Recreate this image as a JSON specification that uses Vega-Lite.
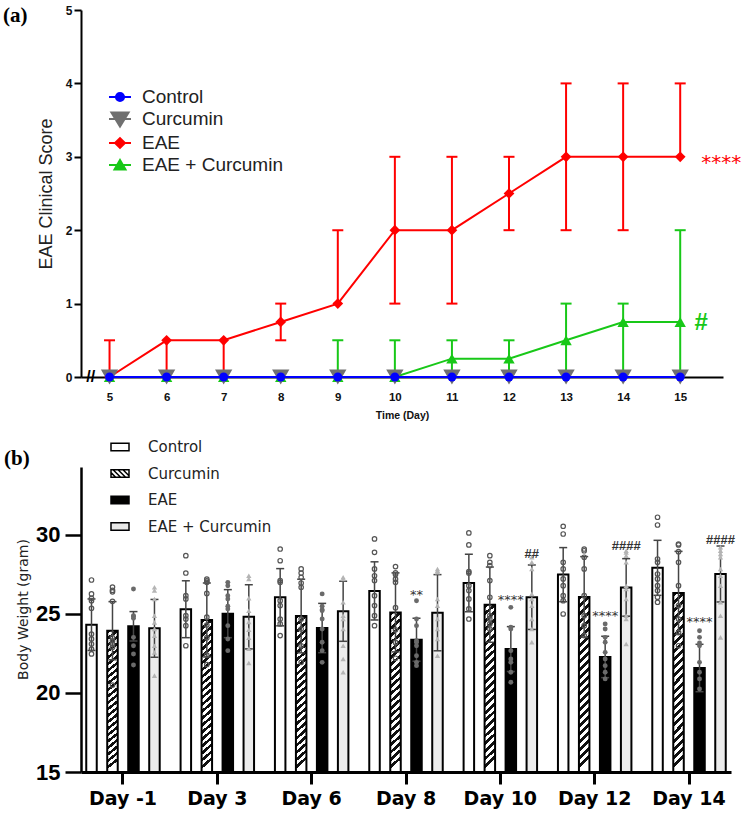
{
"$schema":"https://vega.github.io/schema/vega-lite/v6.json",
"background":"white",
"padding":{"left":3,"top":4,"right":5,"bottom":5},
"config":{"view":{"stroke":null},"font":"Liberation Sans","axis":{"grid":false}},
"bounds":"flush",
"spacing":90,
"resolve":{"scale":{"fill":"independent","shape":"independent","stroke":"independent","color":"independent"},"legend":{"fill":"independent","shape":"independent","stroke":"independent","color":"independent"}},
"datasets":{
"clin":[
{"day":5,"group":"Control","mean":0,"lo":0,"hi":0},{"day":6,"group":"Control","mean":0,"lo":0,"hi":0},{"day":7,"group":"Control","mean":0,"lo":0,"hi":0},{"day":8,"group":"Control","mean":0,"lo":0,"hi":0},{"day":9,"group":"Control","mean":0,"lo":0,"hi":0},{"day":10,"group":"Control","mean":0,"lo":0,"hi":0},{"day":11,"group":"Control","mean":0,"lo":0,"hi":0},{"day":12,"group":"Control","mean":0,"lo":0,"hi":0},{"day":13,"group":"Control","mean":0,"lo":0,"hi":0},{"day":14,"group":"Control","mean":0,"lo":0,"hi":0},{"day":15,"group":"Control","mean":0,"lo":0,"hi":0},
{"day":5,"group":"Curcumin","mean":0,"lo":0,"hi":0},{"day":6,"group":"Curcumin","mean":0,"lo":0,"hi":0},{"day":7,"group":"Curcumin","mean":0,"lo":0,"hi":0},{"day":8,"group":"Curcumin","mean":0,"lo":0,"hi":0},{"day":9,"group":"Curcumin","mean":0,"lo":0,"hi":0},{"day":10,"group":"Curcumin","mean":0,"lo":0,"hi":0},{"day":11,"group":"Curcumin","mean":0,"lo":0,"hi":0},{"day":12,"group":"Curcumin","mean":0,"lo":0,"hi":0},{"day":13,"group":"Curcumin","mean":0,"lo":0,"hi":0},{"day":14,"group":"Curcumin","mean":0,"lo":0,"hi":0},{"day":15,"group":"Curcumin","mean":0,"lo":0,"hi":0},
{"day":5,"group":"EAE","mean":0,"lo":0,"hi":0.5},{"day":6,"group":"EAE","mean":0.5,"lo":0,"hi":0.5},{"day":7,"group":"EAE","mean":0.5,"lo":0,"hi":0.5},{"day":8,"group":"EAE","mean":0.75,"lo":0.5,"hi":1},{"day":9,"group":"EAE","mean":1,"lo":1,"hi":2},{"day":10,"group":"EAE","mean":2,"lo":1,"hi":3},{"day":11,"group":"EAE","mean":2,"lo":1,"hi":3},{"day":12,"group":"EAE","mean":2.5,"lo":2,"hi":3},{"day":13,"group":"EAE","mean":3,"lo":2,"hi":4},{"day":14,"group":"EAE","mean":3,"lo":2,"hi":4},{"day":15,"group":"EAE","mean":3,"lo":3,"hi":4},
{"day":5,"group":"EAE + Curcumin","mean":0,"lo":0,"hi":0},{"day":6,"group":"EAE + Curcumin","mean":0,"lo":0,"hi":0},{"day":7,"group":"EAE + Curcumin","mean":0,"lo":0,"hi":0},{"day":8,"group":"EAE + Curcumin","mean":0,"lo":0,"hi":0},{"day":9,"group":"EAE + Curcumin","mean":0,"lo":0,"hi":0.5},{"day":10,"group":"EAE + Curcumin","mean":0,"lo":0,"hi":0.5},{"day":11,"group":"EAE + Curcumin","mean":0.25,"lo":0,"hi":0.5},{"day":12,"group":"EAE + Curcumin","mean":0.25,"lo":0,"hi":0.5},{"day":13,"group":"EAE + Curcumin","mean":0.5,"lo":0,"hi":1},{"day":14,"group":"EAE + Curcumin","mean":0.75,"lo":0,"hi":1},{"day":15,"group":"EAE + Curcumin","mean":0.75,"lo":0,"hi":2}
],
"bars":[
{"day":"Day -1","group":"Control","mean":24.32,"lo":22.69,"hi":25.95},{"day":"Day -1","group":"Curcumin","mean":23.94,"lo":22.10,"hi":25.78},{"day":"Day -1","group":"EAE","mean":24.22,"lo":23.29,"hi":25.15},{"day":"Day -1","group":"EAE + Curcumin","mean":24.09,"lo":22.26,"hi":25.92},
{"day":"Day 3","group":"Control","mean":25.30,"lo":23.50,"hi":27.10},{"day":"Day 3","group":"Curcumin","mean":24.62,"lo":22.28,"hi":26.96},{"day":"Day 3","group":"EAE","mean":25.02,"lo":23.50,"hi":26.54},{"day":"Day 3","group":"EAE + Curcumin","mean":24.82,"lo":22.79,"hi":26.85},
{"day":"Day 6","group":"Control","mean":26.06,"lo":24.25,"hi":27.87},{"day":"Day 6","group":"Curcumin","mean":24.87,"lo":22.54,"hi":27.20},{"day":"Day 6","group":"EAE","mean":24.11,"lo":22.55,"hi":25.67},{"day":"Day 6","group":"EAE + Curcumin","mean":25.17,"lo":23.27,"hi":27.07},
{"day":"Day 8","group":"Control","mean":26.46,"lo":24.62,"hi":28.30},{"day":"Day 8","group":"Curcumin","mean":25.10,"lo":22.60,"hi":27.60},{"day":"Day 8","group":"EAE","mean":23.37,"lo":22.01,"hi":24.73},{"day":"Day 8","group":"EAE + Curcumin","mean":25.08,"lo":22.67,"hi":27.49},
{"day":"Day 10","group":"Control","mean":26.96,"lo":25.14,"hi":28.78},{"day":"Day 10","group":"Curcumin","mean":25.59,"lo":23.21,"hi":27.97},{"day":"Day 10","group":"EAE","mean":22.78,"lo":21.36,"hi":24.20},{"day":"Day 10","group":"EAE + Curcumin","mean":26.06,"lo":24.02,"hi":28.10},
{"day":"Day 12","group":"Control","mean":27.49,"lo":25.78,"hi":29.20},{"day":"Day 12","group":"Curcumin","mean":26.08,"lo":23.53,"hi":28.63},{"day":"Day 12","group":"EAE","mean":22.28,"lo":20.97,"hi":23.59},{"day":"Day 12","group":"EAE + Curcumin","mean":26.68,"lo":24.86,"hi":28.50},
{"day":"Day 14","group":"Control","mean":27.92,"lo":26.18,"hi":29.66},{"day":"Day 14","group":"Curcumin","mean":26.33,"lo":23.70,"hi":28.96},{"day":"Day 14","group":"EAE","mean":21.58,"lo":20.08,"hi":23.08},{"day":"Day 14","group":"EAE + Curcumin","mean":27.53,"lo":25.76,"hi":29.30}
],
"pts":[
{"day":"Day -1","group":"Control","w":[27.15,26.27,25.99,25.84,25.36,23.73,23.42,23.10,22.78,22.47]},
{"day":"Day -1","group":"Curcumin","w":[26.70,26.50,26.40,25.80,23.50,23.30,23.10,22.90,20.50]},
{"day":"Day -1","group":"EAE","w":[26.58,24.89,24.85,24.73,23.52,22.99,22.47,21.77]},
{"day":"Day -1","group":"EAE + Curcumin","w":[26.69,26.48,25.95,24.89,24.47,24.05,23.63,22.99,22.57,21.10]},
{"day":"Day 3","group":"Control","w":[28.69,27.59,26.16,25.95,24.89,24.68,24.26,22.99]},
{"day":"Day 3","group":"Curcumin","w":[27.20,27.10,27.00,26.30,24.80,24.30,23.50,22.40,21.80]},
{"day":"Day 3","group":"EAE","w":[27.00,26.79,26.16,25.95,25.49,25.32,24.26,23.42,22.68]},
{"day":"Day 3","group":"EAE + Curcumin","w":[27.42,27.22,26.00,25.20,24.50,24.00,23.50,22.80,21.90]},
{"day":"Day 6","group":"Control","w":[29.11,28.37,27.11,27.00,25.84,25.53,24.68,24.37,23.63]},
{"day":"Day 6","group":"Curcumin","w":[27.85,27.59,27.32,26.96,26.69,24.68,24.05,22.99,21.94]},
{"day":"Day 6","group":"EAE","w":[26.27,25.49,25.27,25.21,24.68,24.05,23.21,22.68,21.94]},
{"day":"Day 6","group":"EAE + Curcumin","w":[27.32,27.22,25.74,24.89,24.68,24.05,22.99,22.15,21.31]},
{"day":"Day 8","group":"Control","w":[29.75,28.90,27.85,27.42,27.11,26.16,25.53,24.89,24.26]},
{"day":"Day 8","group":"Curcumin","w":[28.00,27.60,27.50,27.20,27.00,25.40,24.00,23.20,22.20]},
{"day":"Day 8","group":"EAE","w":[25.84,24.68,24.26,23.31,23.21,22.99,22.36,21.94,21.73]},
{"day":"Day 8","group":"EAE + Curcumin","w":[27.85,27.74,27.64,25.95,25.53,24.68,24.05,23.42,22.36]},
{"day":"Day 10","group":"Control","w":[30.13,29.37,27.68,27.59,26.79,26.48,25.95,25.32,24.68]},
{"day":"Day 10","group":"Curcumin","w":[28.69,28.27,28.06,27.11,26.06,24.89,24.68,24.37,24.05]},
{"day":"Day 10","group":"EAE","w":[25.42,24.16,24.05,22.68,22.15,21.94,21.31,20.68]},
{"day":"Day 10","group":"EAE + Curcumin","w":[28.59,28.27,27.85,26.27,25.95,25.53,24.68,24.05,23.21]},
{"day":"Day 12","group":"Control","w":[30.55,30.06,28.27,27.85,27.22,26.79,26.16,25.84,25.00]},
{"day":"Day 12","group":"Curcumin","w":[29.11,29.00,28.59,27.85,26.16,24.89,24.26,23.63]},
{"day":"Day 12","group":"EAE","w":[24.37,24.05,23.52,23.21,22.57,22.15,21.73,21.31,20.89]},
{"day":"Day 12","group":"EAE + Curcumin","w":[29.00,28.90,28.69,28.27,26.79,26.58,25.95,24.89,24.68,23.10]},
{"day":"Day 14","group":"Control","w":[31.12,30.63,28.48,28.27,27.53,27.22,26.79,26.48,26.06,25.74]},
{"day":"Day 14","group":"Curcumin","w":[29.43,29.37,28.94,28.27,26.79,25.53,24.68,23.84,22.99]},
{"day":"Day 14","group":"EAE","w":[23.94,23.52,23.16,22.99,21.94,21.31,20.89,20.25]},
{"day":"Day 14","group":"EAE + Curcumin","w":[29.22,29.00,28.80,28.59,27.85,27.42,26.79,25.74,24.89,23.52]}
],
"notes":[
{"day":"Day 8","group":"EAE","y":26.2,"label":"**"},
{"day":"Day 10","group":"EAE","y":25.9,"label":"****"},
{"day":"Day 12","group":"EAE","y":24.9,"label":"****"},
{"day":"Day 14","group":"EAE","y":24.5,"label":"****"}
],
"hashes":[
{"day":"Day 10","group":"EAE + Curcumin","y":28.8,"label":"##"},
{"day":"Day 12","group":"EAE + Curcumin","y":29.3,"label":"####"},
{"day":"Day 14","group":"EAE + Curcumin","y":29.7,"label":"####"}
]
},
"vconcat":[
{
"width":642,"height":367,
"title":{"text":"(a)","anchor":"start","frame":"group","orient":"top","font":"Liberation Serif","fontSize":21,"fontWeight":"bold","color":"#000","dx":-78,"dy":33,"offset":0,"baseline":"middle"},
"data":{"name":"clin"},
"layer":[
{"transform":[{"filter":"datum.group == 'EAE'"}],
"mark":{"type":"rule","strokeWidth":2,"color":"#ff0000"},
"encoding":{
"x":{"field":"day","type":"quantitative","scale":{"domain":[4.5,15.75],"nice":false,"zero":false},"axis":{"title":"Time (Day)","values":[5,6,7,8,9,10,11,12,13,14,15],"format":"d","labelFont":"Liberation Sans","labelFontSize":11.5,"labelFontWeight":"bold","labelColor":"#111","ticks":false,"tickSize":0,"labelPadding":14,"domainWidth":2,"domainColor":"#000","titleFont":"Liberation Sans","titleFontSize":10.5,"titleFontWeight":"bold","titleColor":"#111","titlePadding":8}},
"y":{"field":"lo","type":"quantitative","scale":{"domain":[0,5],"nice":false},"axis":{"title":"EAE Clinical Score","values":[0,1,2,3,4,5],"format":"d","labelFont":"Liberation Sans","labelFontSize":12,"labelFontWeight":"bold","labelColor":"#111","tickSize":7,"tickWidth":2,"tickColor":"#000","labelPadding":2,"domainWidth":2,"domainColor":"#000","titleFont":"Liberation Sans","titleFontSize":18,"titleFontWeight":"normal","titleColor":"#222","titlePadding":10}},
"y2":{"field":"hi"}}},
{"transform":[{"filter":"datum.group == 'EAE + Curcumin'"}],
"mark":{"type":"rule","strokeWidth":2,"color":"#18c818"},
"encoding":{"x":{"field":"day","type":"quantitative","title":"Time (Day)"},"y":{"field":"lo","type":"quantitative","title":"EAE Clinical Score"},"y2":{"field":"hi"}}},
{"transform":[{"filter":"datum.group == 'EAE'"},{"fold":["lo","hi"],"as":["end","v"]},{"filter":"datum.v != datum.mean && datum.v != 0"}],
"mark":{"type":"tick","orient":"horizontal","size":11,"thickness":2,"opacity":1,"color":"#ff0000"},
"encoding":{"x":{"field":"day","type":"quantitative","title":"Time (Day)"},"y":{"field":"v","type":"quantitative","title":"EAE Clinical Score"}}},
{"transform":[{"filter":"datum.group == 'EAE + Curcumin'"},{"fold":["lo","hi"],"as":["end","v"]},{"filter":"datum.v != datum.mean && datum.v != 0"}],
"mark":{"type":"tick","orient":"horizontal","size":11,"thickness":2,"opacity":1,"color":"#18c818"},
"encoding":{"x":{"field":"day","type":"quantitative","title":"Time (Day)"},"y":{"field":"v","type":"quantitative","title":"EAE Clinical Score"}}},
{"transform":[{"filter":"datum.group == 'EAE'"}],
"mark":{"type":"line","color":"#ff0000","strokeWidth":2,"point":{"shape":"diamond","size":115,"filled":true,"color":"#ff0000","opacity":1}},
"encoding":{"x":{"field":"day","type":"quantitative","title":"Time (Day)"},"y":{"field":"mean","type":"quantitative","title":"EAE Clinical Score"}}},
{"transform":[{"filter":"datum.group == 'EAE + Curcumin'"}],
"mark":{"type":"line","color":"#18c818","strokeWidth":2,"point":{"shape":"triangle-up","size":130,"filled":true,"color":"#18c818","opacity":1}},
"encoding":{"x":{"field":"day","type":"quantitative","title":"Time (Day)"},"y":{"field":"mean","type":"quantitative","title":"EAE Clinical Score"}}},
{"transform":[{"filter":"datum.group == 'Curcumin'"}],
"mark":{"type":"line","color":"#707070","strokeWidth":2,"point":{"shape":"triangle-down","size":300,"filled":true,"color":"#707070","opacity":1}},
"encoding":{"x":{"field":"day","type":"quantitative","title":"Time (Day)"},"y":{"field":"mean","type":"quantitative","title":"EAE Clinical Score"}}},
{"transform":[{"filter":"datum.group == 'Control'"}],
"mark":{"type":"line","color":"#0000ff","strokeWidth":2,"point":{"shape":"circle","size":80,"filled":true,"color":"#0000ff","opacity":1}},
"encoding":{"x":{"field":"day","type":"quantitative","title":"Time (Day)"},"y":{"field":"mean","type":"quantitative","title":"EAE Clinical Score"}}},
{"mark":{"type":"point","filled":true,"opacity":1,"size":0},
"encoding":{"x":{"field":"day","type":"quantitative","title":"Time (Day)"},"y":{"field":"mean","type":"quantitative","title":"EAE Clinical Score"},
"shape":{"field":"group","type":"nominal","scale":{"domain":["Control","Curcumin","EAE","EAE + Curcumin"],"range":["M-1,0H1M0.37,0A0.37,0.37,0,1,1,-0.37,0A0.37,0.37,0,1,1,0.37,0Z","M-1,0H1M-0.78,-0.6L0.78,-0.6L0,0.68Z","M-1,0H1M-0.45,0L0,-0.45L0.45,0L0,0.45Z","M-1,0H1M0,-0.45L0.5,0.4L-0.5,0.4Z"]},
"legend":{"orient":"none","legendX":27,"legendY":75,"title":null,"symbolSize":484,"symbolStrokeWidth":2,"labelFont":"Liberation Sans","labelFontSize":19,"labelColor":"#222","labelOffset":10,"rowPadding":-2,"padding":0,"labelLimit":300}},
"fill":{"field":"group","type":"nominal","scale":{"domain":["Control","Curcumin","EAE","EAE + Curcumin"],"range":["#0000ff","#707070","#ff0000","#18c818"]},
"legend":{"orient":"none","legendX":27,"legendY":75,"title":null,"symbolSize":484,"symbolStrokeWidth":2,"labelFont":"Liberation Sans","labelFontSize":19,"labelColor":"#222","labelOffset":10,"rowPadding":-2,"padding":0,"labelLimit":300}},
"stroke":{"field":"group","type":"nominal","scale":{"domain":["Control","Curcumin","EAE","EAE + Curcumin"],"range":["#0000ff","#707070","#ff0000","#18c818"]},
"legend":{"orient":"none","legendX":27,"legendY":75,"title":null,"symbolSize":484,"symbolStrokeWidth":2,"labelFont":"Liberation Sans","labelFontSize":19,"labelColor":"#222","labelOffset":10,"rowPadding":-2,"padding":0,"labelLimit":300}}}},
{"data":{"values":[{"day":15.37,"score":2.84,"label":"****"}]},
"mark":{"type":"text","align":"left","baseline":"alphabetic","color":"#ff0000","font":"DejaVu Sans","fontSize":20},
"encoding":{"x":{"field":"day","type":"quantitative","title":"Time (Day)"},"y":{"field":"score","type":"quantitative","title":"EAE Clinical Score"},"text":{"field":"label"}}},
{"data":{"values":[{"day":15.25,"score":0.64,"label":"#"}]},
"mark":{"type":"text","align":"left","baseline":"alphabetic","color":"#18c818","font":"Liberation Sans","fontWeight":"bold","fontSize":24},
"encoding":{"x":{"field":"day","type":"quantitative","title":"Time (Day)"},"y":{"field":"score","type":"quantitative","title":"EAE Clinical Score"},"text":{"field":"label"}}},
{"data":{"values":[{"day":4.67,"score":0,"label":"//"}]},
"mark":{"type":"text","align":"center","baseline":"middle","color":"#000","font":"Liberation Sans","fontWeight":"bold","fontSize":16},
"encoding":{"x":{"field":"day","type":"quantitative","title":"Time (Day)"},"y":{"field":"score","type":"quantitative","title":"EAE Clinical Score"},"text":{"field":"label"}}}
]
},
{
"width":650,"height":305,
"title":{"text":"(b)","anchor":"start","frame":"group","orient":"top","font":"Liberation Serif","fontSize":21,"fontWeight":"bold","color":"#000","dx":-77,"dy":43,"offset":0,"baseline":"middle"},
"layer":[
{"data":{"name":"bars"},
"transform":[{"filter":"datum.group == 'Control'"}],
"mark":{"type":"bar","stroke":"#000","strokeWidth":2,"fill":"#ffffff"},
"encoding":{
"x":{"field":"day","type":"nominal","sort":["Day -1","Day 3","Day 6","Day 8","Day 10","Day 12","Day 14"],"scale":{"domain":["Day -1","Day 3","Day 6","Day 8","Day 10","Day 12","Day 14"],"paddingInner":0.11,"paddingOuter":0},"axis":{"title":null,"labelAngle":0,"labelFont":"DejaVu Sans","labelFontSize":19,"labelFontWeight":"bold","labelColor":"#000","tickSize":12,"tickWidth":3,"tickColor":"#000","domainWidth":3,"domainColor":"#000","labelPadding":5}},
"xOffset":{"field":"group","type":"nominal","sort":["Control","Curcumin","EAE","EAE + Curcumin"],"scale":{"domain":["Control","Curcumin","EAE","EAE + Curcumin"],"paddingInner":0.5,"paddingOuter":0.25}},
"y":{"field":"mean","type":"quantitative","scale":{"domain":[15,34.3],"nice":false,"zero":false},"axis":{"title":"Body Weight (gram)","values":[15,20,25,30],"labelFont":"Liberation Sans","labelFontSize":22,"labelFontWeight":"bold","labelColor":"#000","tickSize":16,"tickWidth":2.5,"tickColor":"#000","domainWidth":2.5,"domainColor":"#000","labelPadding":5,"titleFont":"DejaVu Sans","titleFontSize":14,"titleFontWeight":"normal","titleColor":"#222","titlePadding":5,"titleY":142}},
"y2":{"datum":15}}},
{"data":{"name":"bars"},
"transform":[{"filter":"datum.group == 'Curcumin'"}],
"mark":{"type":"bar","stroke":"#000","strokeWidth":2,"fill":{"gradient":"linear","x1":0,"y1":0,"x2":0.06,"y2":1,"stops":[
{"offset":0,"color":"#111"},{"offset":0.0227,"color":"#111"},{"offset":0.0227,"color":"#fff"},{"offset":0.0455,"color":"#fff"},
{"offset":0.0455,"color":"#111"},{"offset":0.0682,"color":"#111"},{"offset":0.0682,"color":"#fff"},{"offset":0.0909,"color":"#fff"},
{"offset":0.0909,"color":"#111"},{"offset":0.1136,"color":"#111"},{"offset":0.1136,"color":"#fff"},{"offset":0.1364,"color":"#fff"},
{"offset":0.1364,"color":"#111"},{"offset":0.1591,"color":"#111"},{"offset":0.1591,"color":"#fff"},{"offset":0.1818,"color":"#fff"},
{"offset":0.1818,"color":"#111"},{"offset":0.2045,"color":"#111"},{"offset":0.2045,"color":"#fff"},{"offset":0.2273,"color":"#fff"},
{"offset":0.2273,"color":"#111"},{"offset":0.25,"color":"#111"},{"offset":0.25,"color":"#fff"},{"offset":0.2727,"color":"#fff"},
{"offset":0.2727,"color":"#111"},{"offset":0.2955,"color":"#111"},{"offset":0.2955,"color":"#fff"},{"offset":0.3182,"color":"#fff"},
{"offset":0.3182,"color":"#111"},{"offset":0.3409,"color":"#111"},{"offset":0.3409,"color":"#fff"},{"offset":0.3636,"color":"#fff"},
{"offset":0.3636,"color":"#111"},{"offset":0.3864,"color":"#111"},{"offset":0.3864,"color":"#fff"},{"offset":0.4091,"color":"#fff"},
{"offset":0.4091,"color":"#111"},{"offset":0.4318,"color":"#111"},{"offset":0.4318,"color":"#fff"},{"offset":0.4545,"color":"#fff"},
{"offset":0.4545,"color":"#111"},{"offset":0.4773,"color":"#111"},{"offset":0.4773,"color":"#fff"},{"offset":0.5,"color":"#fff"},
{"offset":0.5,"color":"#111"},{"offset":0.5227,"color":"#111"},{"offset":0.5227,"color":"#fff"},{"offset":0.5455,"color":"#fff"},
{"offset":0.5455,"color":"#111"},{"offset":0.5682,"color":"#111"},{"offset":0.5682,"color":"#fff"},{"offset":0.5909,"color":"#fff"},
{"offset":0.5909,"color":"#111"},{"offset":0.6136,"color":"#111"},{"offset":0.6136,"color":"#fff"},{"offset":0.6364,"color":"#fff"},
{"offset":0.6364,"color":"#111"},{"offset":0.6591,"color":"#111"},{"offset":0.6591,"color":"#fff"},{"offset":0.6818,"color":"#fff"},
{"offset":0.6818,"color":"#111"},{"offset":0.7045,"color":"#111"},{"offset":0.7045,"color":"#fff"},{"offset":0.7273,"color":"#fff"},
{"offset":0.7273,"color":"#111"},{"offset":0.75,"color":"#111"},{"offset":0.75,"color":"#fff"},{"offset":0.7727,"color":"#fff"},
{"offset":0.7727,"color":"#111"},{"offset":0.7955,"color":"#111"},{"offset":0.7955,"color":"#fff"},{"offset":0.8182,"color":"#fff"},
{"offset":0.8182,"color":"#111"},{"offset":0.8409,"color":"#111"},{"offset":0.8409,"color":"#fff"},{"offset":0.8636,"color":"#fff"},
{"offset":0.8636,"color":"#111"},{"offset":0.8864,"color":"#111"},{"offset":0.8864,"color":"#fff"},{"offset":0.9091,"color":"#fff"},
{"offset":0.9091,"color":"#111"},{"offset":0.9318,"color":"#111"},{"offset":0.9318,"color":"#fff"},{"offset":0.9545,"color":"#fff"},
{"offset":0.9545,"color":"#111"},{"offset":0.9773,"color":"#111"},{"offset":0.9773,"color":"#fff"},{"offset":1,"color":"#fff"}]}},
"encoding":{
"x":{"field":"day","type":"nominal","sort":["Day -1","Day 3","Day 6","Day 8","Day 10","Day 12","Day 14"],"title":null},
"xOffset":{"field":"group","type":"nominal","sort":["Control","Curcumin","EAE","EAE + Curcumin"]},
"y":{"field":"mean","type":"quantitative","title":"Body Weight (gram)"},"y2":{"datum":15}}},
{"data":{"name":"bars"},
"transform":[{"filter":"datum.group == 'EAE'"}],
"mark":{"type":"bar","stroke":"#000","strokeWidth":2,"fill":"#000000"},
"encoding":{
"x":{"field":"day","type":"nominal","sort":["Day -1","Day 3","Day 6","Day 8","Day 10","Day 12","Day 14"],"title":null},
"xOffset":{"field":"group","type":"nominal","sort":["Control","Curcumin","EAE","EAE + Curcumin"]},
"y":{"field":"mean","type":"quantitative","title":"Body Weight (gram)"},"y2":{"datum":15}}},
{"data":{"name":"bars"},
"transform":[{"filter":"datum.group == 'EAE + Curcumin'"}],
"mark":{"type":"bar","stroke":"#000","strokeWidth":2,"fill":"#ececec"},
"encoding":{
"x":{"field":"day","type":"nominal","sort":["Day -1","Day 3","Day 6","Day 8","Day 10","Day 12","Day 14"],"title":null},
"xOffset":{"field":"group","type":"nominal","sort":["Control","Curcumin","EAE","EAE + Curcumin"]},
"y":{"field":"mean","type":"quantitative","title":"Body Weight (gram)"},"y2":{"datum":15}}},
{"data":{"name":"bars"},
"mark":{"type":"rule","color":"#444","strokeWidth":1.5},
"encoding":{"x":{"field":"day","type":"nominal","sort":["Day -1","Day 3","Day 6","Day 8","Day 10","Day 12","Day 14"],"title":null},
"xOffset":{"field":"group","type":"nominal","sort":["Control","Curcumin","EAE","EAE + Curcumin"]},
"y":{"field":"lo","type":"quantitative","title":"Body Weight (gram)"},"y2":{"field":"hi"}}},
{"data":{"name":"bars"},
"transform":[{"fold":["lo","hi"],"as":["end","v"]}],
"mark":{"type":"tick","orient":"horizontal","color":"#444","size":8,"thickness":1.5,"opacity":1},
"encoding":{"x":{"field":"day","type":"nominal","sort":["Day -1","Day 3","Day 6","Day 8","Day 10","Day 12","Day 14"],"title":null},
"xOffset":{"field":"group","type":"nominal","sort":["Control","Curcumin","EAE","EAE + Curcumin"]},
"y":{"field":"v","type":"quantitative","title":"Body Weight (gram)"}}},
{"data":{"name":"pts"},
"transform":[{"flatten":["w"]},{"filter":"datum.group == 'Control' || datum.group == 'Curcumin'"}],
"mark":{"type":"point","shape":"circle","filled":false,"stroke":"#555","strokeWidth":1.2,"size":20,"opacity":1},
"encoding":{"x":{"field":"day","type":"nominal","sort":["Day -1","Day 3","Day 6","Day 8","Day 10","Day 12","Day 14"],"title":null},
"xOffset":{"field":"group","type":"nominal","sort":["Control","Curcumin","EAE","EAE + Curcumin"]},
"y":{"field":"w","type":"quantitative","title":"Body Weight (gram)"}}},
{"data":{"name":"pts"},
"transform":[{"flatten":["w"]},{"filter":"datum.group == 'EAE'"}],
"mark":{"type":"point","shape":"circle","filled":true,"color":"#6a6a6a","size":24,"opacity":1},
"encoding":{"x":{"field":"day","type":"nominal","sort":["Day -1","Day 3","Day 6","Day 8","Day 10","Day 12","Day 14"],"title":null},
"xOffset":{"field":"group","type":"nominal","sort":["Control","Curcumin","EAE","EAE + Curcumin"]},
"y":{"field":"w","type":"quantitative","title":"Body Weight (gram)"}}},
{"data":{"name":"pts"},
"transform":[{"flatten":["w"]},{"filter":"datum.group == 'EAE + Curcumin'"}],
"mark":{"type":"point","shape":"triangle-up","filled":true,"color":"#b4b4b4","size":28,"opacity":1},
"encoding":{"x":{"field":"day","type":"nominal","sort":["Day -1","Day 3","Day 6","Day 8","Day 10","Day 12","Day 14"],"title":null},
"xOffset":{"field":"group","type":"nominal","sort":["Control","Curcumin","EAE","EAE + Curcumin"]},
"y":{"field":"w","type":"quantitative","title":"Body Weight (gram)"}}},
{"data":{"name":"notes"},
"mark":{"type":"text","align":"center","baseline":"middle","color":"#333","font":"DejaVu Sans","fontSize":13},
"encoding":{"x":{"field":"day","type":"nominal","sort":["Day -1","Day 3","Day 6","Day 8","Day 10","Day 12","Day 14"],"title":null},
"xOffset":{"field":"group","type":"nominal","sort":["Control","Curcumin","EAE","EAE + Curcumin"]},
"y":{"field":"y","type":"quantitative","title":"Body Weight (gram)"},"text":{"field":"label"}}},
{"data":{"name":"hashes"},
"mark":{"type":"text","align":"center","baseline":"middle","color":"#333","font":"Liberation Sans","fontWeight":"bold","fontSize":13},
"encoding":{"x":{"field":"day","type":"nominal","sort":["Day -1","Day 3","Day 6","Day 8","Day 10","Day 12","Day 14"],"title":null},
"xOffset":{"field":"group","type":"nominal","sort":["Control","Curcumin","EAE","EAE + Curcumin"]},
"y":{"field":"y","type":"quantitative","title":"Body Weight (gram)"},"text":{"field":"label"}}},
{"data":{"name":"bars"},
"mark":{"type":"point","filled":true,"opacity":1,"size":0,"strokeWidth":1.5},
"encoding":{"x":{"field":"day","type":"nominal","sort":["Day -1","Day 3","Day 6","Day 8","Day 10","Day 12","Day 14"],"title":null},
"y":{"field":"mean","type":"quantitative","title":"Body Weight (gram)"},
"shape":{"field":"group","type":"nominal","scale":{"domain":["Control","Curcumin","EAE","EAE + Curcumin"],"range":["M-1,-0.42H1V0.42H-1Z","M-1,-0.42H1V0.42H-1ZM-1,-0.1L-0.48,0.42M-0.77,-0.42L0.07,0.42M-0.22,-0.42L0.62,0.42M0.33,-0.42L1,0.25","M-1,-0.42H1V0.42H-1Z","M-1,-0.42H1V0.42H-1Z"]},
"legend":{"orient":"none","legendX":29,"legendY":-30,"title":null,"symbolSize":324,"symbolStrokeWidth":1.5,"labelFont":"DejaVu Sans","labelFontSize":15,"labelColor":"#222","labelOffset":18,"rowPadding":8.5,"padding":0,"labelLimit":300}},
"fill":{"field":"group","type":"nominal","scale":{"domain":["Control","Curcumin","EAE","EAE + Curcumin"],"range":["#ffffff","#ffffff","#000000","#e8e8e8"]},
"legend":{"orient":"none","legendX":29,"legendY":-30,"title":null,"symbolSize":324,"symbolStrokeWidth":1.5,"labelFont":"DejaVu Sans","labelFontSize":15,"labelColor":"#222","labelOffset":18,"rowPadding":8.5,"padding":0,"labelLimit":300}},
"stroke":{"field":"group","type":"nominal","scale":{"domain":["Control","Curcumin","EAE","EAE + Curcumin"],"range":["#000000","#000001","#000002","#000003"]},
"legend":{"orient":"none","legendX":29,"legendY":-30,"title":null,"symbolSize":324,"symbolStrokeWidth":1.5,"labelFont":"DejaVu Sans","labelFontSize":15,"labelColor":"#222","labelOffset":18,"rowPadding":8.5,"padding":0,"labelLimit":300}}}}
]
}
]
}
